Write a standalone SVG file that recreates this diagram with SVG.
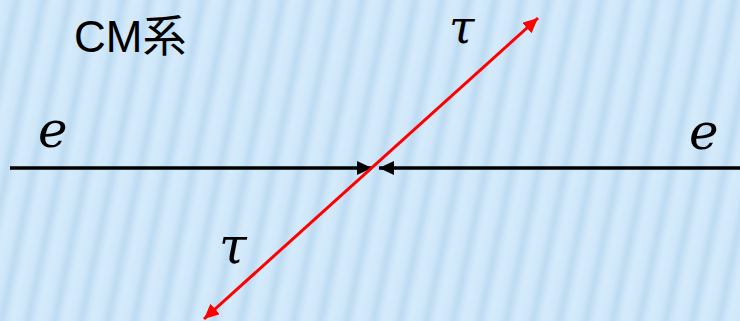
<svg xmlns="http://www.w3.org/2000/svg" width="740" height="321" viewBox="0 0 740 321">
<defs>
<linearGradient id="sg" x1="0" y1="0" x2="1" y2="0">
<stop offset="0" stop-color="#d5ebfb"/>
<stop offset="0.35" stop-color="#cfe7f9"/>
<stop offset="0.62" stop-color="#bddbf2"/>
<stop offset="0.82" stop-color="#cbe4f7"/>
<stop offset="1" stop-color="#d5ebfb"/>
</linearGradient>
<pattern id="stripes" width="26" height="40" patternUnits="userSpaceOnUse" patternTransform="rotate(12)">
<rect width="26" height="40" fill="url(#sg)"/>
</pattern>
<marker id="ab" markerWidth="16" markerHeight="14" refX="15" refY="7" orient="auto-start-reverse" markerUnits="userSpaceOnUse">
<path d="M0,0 L15,7 L0,14 z" fill="#000"/>
</marker>
<marker id="ar" markerWidth="16" markerHeight="14" refX="15" refY="7" orient="auto-start-reverse" markerUnits="userSpaceOnUse">
<path d="M0,0 L15,7 L0,14 z" fill="#ff0000"/>
</marker>
</defs>
<style>
.lbl{font-family:"DejaVu Serif","Liberation Serif",serif;font-style:italic;fill:#000}
.title{font-family:"Liberation Sans","Noto Sans CJK JP",sans-serif;fill:#000}
</style>
<rect width="740" height="321" fill="url(#stripes)"/>
<g id="connectors">
<line x1="10" y1="168" x2="372" y2="168" stroke="#000" stroke-width="3.5" marker-end="url(#ab)"/>
<line x1="740" y1="168" x2="379" y2="168" stroke="#000" stroke-width="3.5" marker-end="url(#ab)"/>
<line x1="204" y1="319" x2="538" y2="18" stroke="#ff0000" stroke-width="3" marker-start="url(#ar)" marker-end="url(#ar)"/>
</g>
<g id="title"><text class="title" x="74" y="52" font-size="44">CM系</text></g>
<g id="e-left"><text class="lbl" x="38" y="147" font-size="50">e</text></g>
<g id="e-right"><text class="lbl" x="689" y="149" font-size="50">e</text></g>
<g id="tau-top"><text class="lbl" x="449" y="43" font-size="46">τ</text></g>
<g id="tau-bottom"><text class="lbl" x="219" y="263" font-size="50">τ</text></g>
</svg>
